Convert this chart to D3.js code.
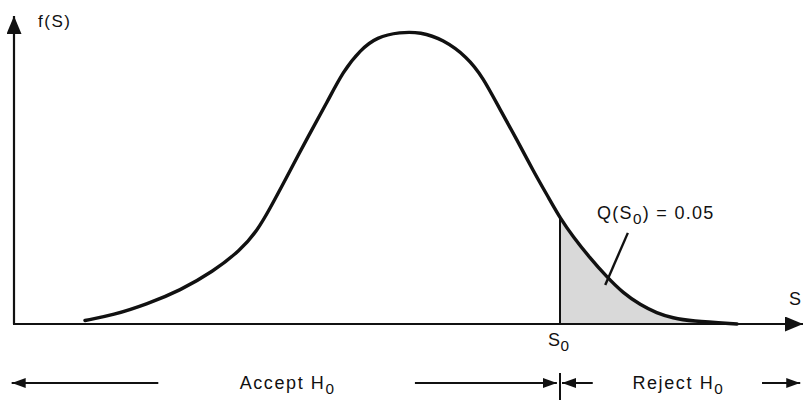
<!DOCTYPE html>
<html lang="en">
<head>
  <meta charset="UTF-8" />
  <title>Test statistic distribution</title>
  <script src="https://d3js.org/d3.v7.min.js"></script>
  <style>
    body {
      margin: 0;
      background: #fff;
    }
    svg text {
      font-family: 'Liberation Sans', Arial, sans-serif;
      fill: #111;
    }
  </style>
</head>
<body>
  <svg id="chart"></svg>

  <script>
    // curve: S (axis units) and f(S)
    const sValues = [0.91, 1.27, 1.71, 2.13, 2.55, 2.90, 3.12, 3.28, 3.47, 3.79, 4.01, 4.22, 4.44, 4.65, 4.95,
      5.21, 5.50, 5.81, 6.01, 6.23, 6.45, 6.65, 6.87, 7.00, 7.17, 7.38, 7.60, 7.81, 8.03, 8.24, 8.45, 8.67, 9.27];
    const fValues = [0.012, 0.030, 0.068, 0.114, 0.178, 0.250, 0.318, 0.392, 0.486, 0.648, 0.752, 0.860, 0.932, 0.976, 0.993,
      0.993, 0.968, 0.908, 0.840, 0.730, 0.626, 0.524, 0.422, 0.361, 0.296, 0.226, 0.160, 0.105, 0.065, 0.037, 0.020, 0.010, 0.000];

    const s0 = 7.0;
    const qLabel = "0.05";

    // leader from the Q label into the shaded tail
    const leaderS = [7.87, 7.58];
    const leaderF = [0.310, 0.133];

    // decision regions along the bottom
    const acceptRange = [-0.03, 6.96];
    const acceptGap = [1.85, 5.14];
    const rejectRange = [7.0, 10.08];
    const rejectGap = [7.42, 9.59];

    const W = 804, H = 401;
    const svg = d3.select("#chart").attr("width", W).attr("height", H);

    const x = d3.scaleLinear().domain([0, 10]).range([14, 794]);
    const y = d3.scaleLinear().domain([0, 1]).range([324, 30]);

    const data = sValues.map((s, i) => ({ s, f: fValues[i] }));
    const curve = d3.curveBasis;

    // arrowheads
    const defs = svg.append("defs");
    function marker(id, w, h) {
      defs.append("marker")
        .attr("id", id)
        .attr("viewBox", `0 0 ${w} ${h}`)
        .attr("refX", w).attr("refY", h / 2)
        .attr("markerWidth", w).attr("markerHeight", h)
        .attr("markerUnits", "userSpaceOnUse")
        .attr("orient", "auto-start-reverse")
        .append("path")
        .attr("d", `M0,0L${w},${h / 2}L0,${h}Z`)
        .attr("fill", "#111");
    }
    marker("axisHead", 18, 15);
    marker("smallHead", 14, 10);

    // shaded rejection tail
    const tail = data.filter(d => d.s >= s0);
    svg.append("path")
      .datum(tail)
      .attr("fill", "#d9d9d9")
      .attr("d", d3.area().curve(curve).x(d => x(d.s)).y0(y(0)).y1(d => y(d.f)));

    // axes
    svg.append("line")
      .attr("x1", x(0)).attr("y1", y(0))
      .attr("x2", x(0)).attr("y2", 16)
      .attr("stroke", "#111").attr("stroke-width", 2.2)
      .attr("marker-end", "url(#axisHead)");

    svg.append("line")
      .attr("x1", x(0) - 1).attr("y1", y(0))
      .attr("x2", 803).attr("y2", y(0))
      .attr("stroke", "#111").attr("stroke-width", 2)
      .attr("marker-end", "url(#axisHead)");

    // S0 cut-off
    const f0 = fValues[sValues.indexOf(s0)];
    svg.append("line")
      .attr("x1", x(s0)).attr("y1", y(0))
      .attr("x2", x(s0)).attr("y2", y(f0))
      .attr("stroke", "#111").attr("stroke-width", 2);

    // density curve
    svg.append("path")
      .datum(data)
      .attr("fill", "none")
      .attr("stroke", "#111")
      .attr("stroke-width", 3.4)
      .attr("stroke-linecap", "round")
      .attr("d", d3.line().curve(curve).x(d => x(d.s)).y(d => y(d.f)));

    // leader line
    svg.append("line")
      .attr("x1", x(leaderS[0])).attr("y1", y(leaderF[0]))
      .attr("x2", x(leaderS[1])).attr("y2", y(leaderF[1]))
      .attr("stroke", "#111").attr("stroke-width", 2.4);

    // labels
    function sub(sel, main, subTxt, after) {
      sel.append("tspan").text(main);
      sel.append("tspan").attr("dy", 5).attr("font-size", "0.85em").text(subTxt);
      if (after) sel.append("tspan").attr("dy", -5).text(after);
      return sel;
    }

    svg.append("text").attr("x", 38).attr("y", 27).attr("font-size", 17).attr("letter-spacing", 1.5).text("f(S)");
    svg.append("text").attr("x", 789).attr("y", 305).attr("font-size", 18).text("S");

    sub(svg.append("text").attr("x", 597).attr("y", 219).attr("font-size", 18).attr("letter-spacing", 1.3),
      "Q(S", "0", `) = ${qLabel}`);

    sub(svg.append("text").attr("x", x(s0) - 12).attr("y", 346).attr("font-size", 18).attr("letter-spacing", 0.5), "S", "0");

    // bottom decision arrows
    const by = 383;
    svg.append("line")
      .attr("x1", x(acceptGap[0])).attr("y1", by)
      .attr("x2", x(acceptRange[0])).attr("y2", by)
      .attr("stroke", "#111").attr("stroke-width", 2)
      .attr("marker-end", "url(#smallHead)");
    svg.append("line")
      .attr("x1", x(acceptGap[1])).attr("y1", by)
      .attr("x2", x(acceptRange[1])).attr("y2", by)
      .attr("stroke", "#111").attr("stroke-width", 2)
      .attr("marker-end", "url(#smallHead)");
    svg.append("line")
      .attr("x1", x(rejectGap[0])).attr("y1", by)
      .attr("x2", x(rejectRange[0]) + 2).attr("y2", by)
      .attr("stroke", "#111").attr("stroke-width", 2)
      .attr("marker-end", "url(#smallHead)");
    svg.append("line")
      .attr("x1", x(rejectGap[1])).attr("y1", by)
      .attr("x2", x(rejectRange[1])).attr("y2", by)
      .attr("stroke", "#111").attr("stroke-width", 2)
      .attr("marker-end", "url(#smallHead)");
    svg.append("line")
      .attr("x1", x(s0)).attr("y1", 373)
      .attr("x2", x(s0)).attr("y2", 400)
      .attr("stroke", "#111").attr("stroke-width", 2);

    sub(svg.append("text")
      .attr("x", x((acceptGap[0] + acceptGap[1]) / 2) + 1).attr("y", 389)
      .attr("text-anchor", "middle").attr("font-size", 18).attr("letter-spacing", 1.6),
      "Accept H", "0");
    sub(svg.append("text")
      .attr("x", x((rejectGap[0] + rejectGap[1]) / 2) + 1).attr("y", 389)
      .attr("text-anchor", "middle").attr("font-size", 18).attr("letter-spacing", 1.6),
      "Reject H", "0");
  </script>
</body>
</html>
